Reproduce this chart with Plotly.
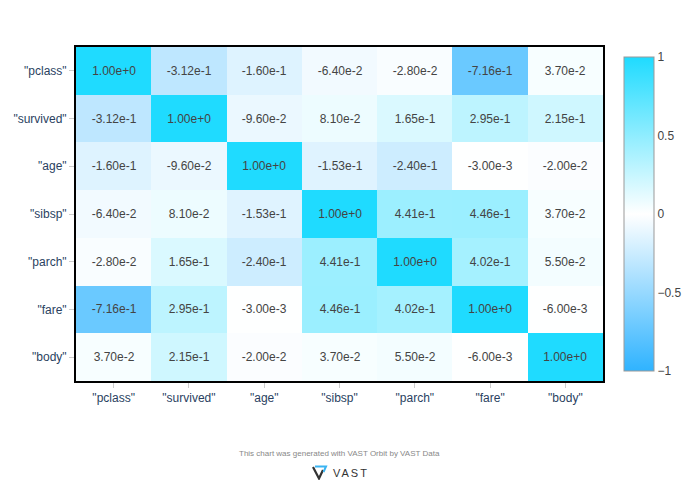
import base64
import plotly.graph_objects as go

labels = ['"pclass"', '"survived"', '"age"', '"sibsp"', '"parch"', '"fare"', '"body"']

corr = [
    [1.0, -0.312, -0.160, -0.064, -0.028, -0.716, 0.037],
    [-0.312, 1.0, -0.096, 0.081, 0.165, 0.295, 0.215],
    [-0.160, -0.096, 1.0, -0.153, -0.240, -0.003, -0.020],
    [-0.064, 0.081, -0.153, 1.0, 0.441, 0.446, 0.037],
    [-0.028, 0.165, -0.240, 0.441, 1.0, 0.402, 0.055],
    [-0.716, 0.295, -0.003, 0.446, 0.402, 1.0, -0.006],
    [0.037, 0.215, -0.020, 0.037, 0.055, -0.006, 1.0],
]

font = "Liberation Sans, Arial, sans-serif"

fig = go.Figure()
fig.add_trace(go.Heatmap(
    x=labels, y=labels, z=corr,
    zmin=-1, zmax=1,
    colorscale=[[0, "#2fb3ff"], [0.5, "#ffffff"], [1, "#1fdbff"]],
    texttemplate="%{z:.2e}",
    textfont=dict(size=12, color="#444444", family=font),
    colorbar=dict(tickvals=[1, 0.5, 0, -0.5, -1], ticktext=["1", "0.5", "0", "\u22120.5", "\u22121"],
                  outlinecolor="#999999", outlinewidth=1, thickness=30,
                  tickfont=dict(size=12, color="#444444")),
    hoverongaps=False,
))

# small logo drawn as svg, 60x15 px
svg = ('<svg xmlns="http://www.w3.org/2000/svg" width="60" height="15" viewBox="0 0 60 15">'
       '<path d="M1 2 L7 13.5 L11 5" stroke="#333" stroke-width="2.2" fill="none"/>'
       '<path d="M3 1.5 L14 1.5 L11.5 7" stroke="#3ab4f2" stroke-width="2" fill="none"/>'
       '<text x="21" y="12" font-family="Liberation Sans, Arial" font-size="11" '
       'letter-spacing="2" fill="#333">VAST</text></svg>')
logo = "data:image/svg+xml;base64," + base64.b64encode(svg.encode()).decode()

ml, mr, mt, mb = 68, 105, 39, 127
plot_w = 700 - ml - mr
plot_h = 500 - mt - mb
bottom = 500 - mb

fig.update_layout(
    width=700, height=500,
    margin=dict(l=ml, r=mr, t=mt, b=mb),
    paper_bgcolor="white", plot_bgcolor="white",
    font=dict(family=font, size=12, color="#2a3f5f"),
    xaxis=dict(showline=True, linecolor="black", linewidth=2, mirror=True,
               ticks="outside", ticklen=5, tickcolor="#cccccc", automargin=False,
               tickfont=dict(color="#2a3f5f")),
    yaxis=dict(showline=True, linecolor="black", linewidth=2, mirror=True,
               ticks="outside", ticklen=5, tickcolor="#cccccc", automargin=False,
               autorange="reversed", tickfont=dict(color="#2a3f5f")),
    annotations=[dict(text="This chart was generated with VAST Orbit by VAST Data",
                      xref="paper", yref="paper", x=0.5, y=-(445 - bottom) / plot_h,
                      showarrow=False, xanchor="center", yanchor="middle",
                      font=dict(size=8, color="#888888"))],
    images=[dict(source=logo, xref="paper", yref="paper",
                 x=(304 - ml) / plot_w, y=-(457 - bottom) / plot_h,
                 sizex=60 / plot_w, sizey=15 / plot_h,
                 xanchor="left", yanchor="top", layer="above")],
)

fig.write_html("out.html")
